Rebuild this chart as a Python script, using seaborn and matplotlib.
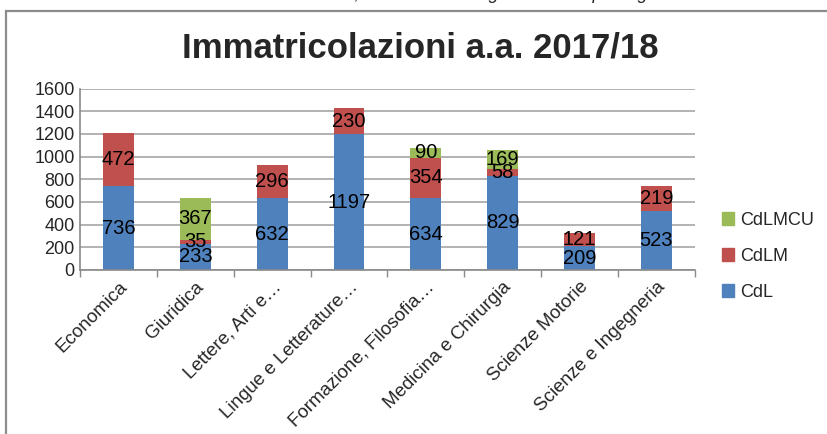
import numpy as np
import pandas as pd
import matplotlib.pyplot as plt
import seaborn as sns
from matplotlib.patches import Rectangle, Patch

sns.set_theme(style="white")
plt.rcParams['font.family'] = ['Liberation Sans', 'DejaVu Sans']

# Data
categories = ['Economica', 'Giuridica', 'Lettere, Arti e…', 'Lingue e Letterature…',
              'Formazione, Filosofia…', 'Medicina e Chirurgia', 'Scienze Motorie',
              'Scienze e Ingegneria']
cdl = [736, 233, 632, 1197, 634, 829, 209, 523]
cdlm = [472, 35, 296, 230, 354, 58, 121, 219]
cdlmcu = [0, 367, 0, 0, 90, 169, 0, 0]
yticks = [0, 200, 400, 600, 800, 1000, 1200, 1400, 1600]

colors = {'CdL': '#4F81BD', 'CdLM': '#C0504D', 'CdLMCU': '#9BBB59'}

df = pd.DataFrame({'cat': categories, 'CdL': cdl, 'CdLM': cdlm, 'CdLMCU': cdlmcu})
df['s1'] = df['CdL']
df['s2'] = df['CdL'] + df['CdLM']
df['s3'] = df['s2'] + df['CdLMCU']

fig = plt.figure(figsize=(8.27, 4.34), dpi=100)
ax = fig.add_axes([0.097, 0.378, 0.743, 0.418])

# stacked bars: draw cumulative totals from back to front
for col, name in [('s3', 'CdLMCU'), ('s2', 'CdLM'), ('s1', 'CdL')]:
    sns.barplot(data=df, x='cat', y=col, color=colors[name], saturation=1,
                width=0.4, ax=ax, order=categories, edgecolor='none', linewidth=0)

# value labels centred in each segment
for i in range(len(categories)):
    base = 0
    for vals in (cdl, cdlm, cdlmcu):
        v = vals[i]
        if v > 0:
            ax.text(i, base + v / 2, str(v), ha='center', va='center',
                    fontsize=14.5, color='black')
        base += v

ax.set_ylim(0, 1600)
ax.set_xlim(-0.5, len(categories) - 0.5)
ax.set_yticks(yticks)
ax.set_yticklabels([str(t) for t in yticks], fontsize=13)
ax.set_xlabel('')
ax.set_ylabel('')
ax.set_xticks(range(len(categories)))
ax.set_xticklabels(categories, rotation=45, ha='right', rotation_mode='anchor',
                   fontsize=13.5)
ax.tick_params(axis='x', length=0, pad=6)
ax.tick_params(axis='y', length=0, pad=4)
# category separator ticks
ax.set_xticks(np.arange(-0.5, len(categories), 1), minor=True)
ax.tick_params(axis='x', which='minor', length=5, color='#898989', direction='out')
ax.xaxis.set_ticks_position('bottom')

ax.set_axisbelow(True)
ax.yaxis.grid(True, color='#A6A6A6', linewidth=1.2)
for s in ['top', 'right']:
    ax.spines[s].set_visible(False)
for s in ['left', 'bottom']:
    ax.spines[s].set_color('#898989')
    ax.spines[s].set_linewidth(1.2)

# legend
handles = [Patch(color=colors[n], label=n) for n in ['CdLMCU', 'CdLM', 'CdL']]
fig.legend(handles=handles, loc='center left', bbox_to_anchor=(0.853, 0.41),
           frameon=False, fontsize=13, handlelength=0.7, handleheight=0.7,
           handletextpad=0.3, labelspacing=1.05)

# title
fig.text(0.508, 0.89, 'Immatricolazioni a.a. 2017/18', ha='center', va='center',
         fontsize=25, fontweight='bold')

# outer chart frame
fig.patches.append(Rectangle((6 / 827, -0.1), 1.2, 1.1 - 11 / 434, transform=fig.transFigure,
                             fill=False, edgecolor='#8C8C8C', linewidth=1.6))

# clipped caption line from the page above
fig.text(0.0, 1.012, 'Fonte: Immatricolazioni dal Data Warehouse, CSI - Servizi di gestione e reporting direzionale',
         ha='left', va='center', fontsize=13, style='italic')

fig.savefig('out.png', dpi=100)
